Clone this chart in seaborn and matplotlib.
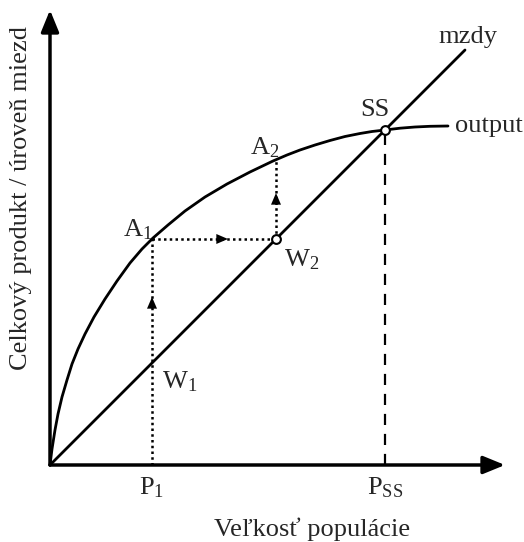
import matplotlib
matplotlib.use('Agg')
import numpy as np
import pandas as pd
import matplotlib.pyplot as plt
import seaborn as sns

# output curve (units = pixels from origin)
out_x = [0, 2, 5, 8, 12, 17, 22, 28, 35, 44, 55, 67, 80, 92, 103, 118, 135,
         155, 177, 200, 223, 237, 250, 265, 280, 295, 310, 322, 335, 350, 365, 380, 398]
out_y = [0, 16, 35, 51, 68, 85, 101, 116, 131, 148, 166, 184, 202, 216, 227, 240, 254,
         268, 281, 293, 304, 310, 315, 320, 324.5, 328.5, 331.5, 333.5, 335, 336.8, 338, 338.7, 339]

# wage line
wage_x = [0, 415]
wage_y = [0, 415]

# key points
p1 = 102
a1_y = 226
w2 = (226, 226)
a2 = (226, 305)
ss = (335, 335)

sns.set_theme(style="white")
plt.rcParams['font.family'] = ['Liberation Serif', 'DejaVu Serif']
plt.rcParams['mathtext.fontset'] = 'custom'
plt.rcParams['mathtext.rm'] = 'Liberation Serif'
plt.rcParams['mathtext.it'] = 'Liberation Serif:italic'

fig = plt.figure(figsize=(5.24, 5.42), dpi=100)
W, H = 524, 542
ox, oy = 50, 465
ax = fig.add_axes([ox / W, (H - oy) / H, 453 / W, 454 / H])
ax.set_xlim(0, 453)
ax.set_ylim(0, 454)
ax.axis('off')

df_out = pd.DataFrame({'x': out_x, 'y': out_y})
df_wage = pd.DataFrame({'x': wage_x, 'y': wage_y})
sns.lineplot(data=df_out, x='x', y='y', ax=ax, color='black', lw=2, sort=False, clip_on=False)
sns.lineplot(data=df_wage, x='x', y='y', ax=ax, color='black', lw=2, clip_on=False)

# axes with arrows
ax.annotate('', xy=(455, 0), xytext=(0, 0),
            arrowprops=dict(arrowstyle='-|>,head_length=1.1,head_width=0.45', color='black', lw=2.5,
                            shrinkA=0, shrinkB=0), annotation_clip=False)
ax.annotate('', xy=(0, 455), xytext=(0, 0),
            arrowprops=dict(arrowstyle='-|>,head_length=1.1,head_width=0.45', color='black', lw=2.5,
                            shrinkA=0, shrinkB=0), annotation_clip=False)

# dotted path
dot = dict(color='black', lw=1.8, ls=(0, (1, 1.3)))
ax.plot([p1, p1], [0, a1_y], **dot)
ax.plot([p1, w2[0]], [a1_y, a1_y], **dot)
ax.plot([w2[0], a2[0]], [w2[1], a2[1]], **dot)
ax.plot([ss[0], ss[0]], [0, ss[1]], color='black', lw=1.6, ls=(0, (5, 4)))

head = dict(arrowstyle='-|>,head_length=0.7,head_width=0.3', color='black', lw=0, shrinkA=0, shrinkB=0)
ax.annotate('', xy=(p1, 168), xytext=(p1, 150), arrowprops=head)
ax.annotate('', xy=(178, a1_y), xytext=(160, a1_y), arrowprops=head)
ax.annotate('', xy=(w2[0], 272), xytext=(w2[0], 254), arrowprops=head)

# open circles
ax.scatter([w2[0], ss[0]], [w2[1], ss[1]], s=40, facecolor='white', edgecolor='black', lw=1.5, zorder=5)

fs = 19
ax.text(418, 428, 'mzdy', fontsize=fs, ha='center', va='center')
ax.text(405, 339, 'output', fontsize=fs, ha='left', va='center')
ax.text(325, 355, 'SS', fontsize=fs, ha='center', va='center')
ax.text(200, 317, r'$\mathrm{A}_2$', fontsize=fs, ha='left', va='center')
ax.text(73, 235, r'$\mathrm{A}_1$', fontsize=fs, ha='left', va='center')
ax.text(234, 205, r'$\mathrm{W}_2$', fontsize=fs, ha='left', va='center')
ax.text(112, 83, r'$\mathrm{W}_1$', fontsize=fs, ha='left', va='center')
ax.text(p1, -23, r'$\mathrm{P}_1$', fontsize=fs, ha='center', va='center')
ax.text(ss[0], -23, r'$\mathrm{P}_{\mathrm{SS}}$', fontsize=fs, ha='center', va='center')
ax.text(262, -64, 'Veľkosť populácie', fontsize=fs, ha='center', va='center')
ax.text(-29, 267, 'Celkový produkt / úroveň miezd', fontsize=fs, ha='center', va='center', rotation=90)

fig.savefig('out.png', dpi=100)
